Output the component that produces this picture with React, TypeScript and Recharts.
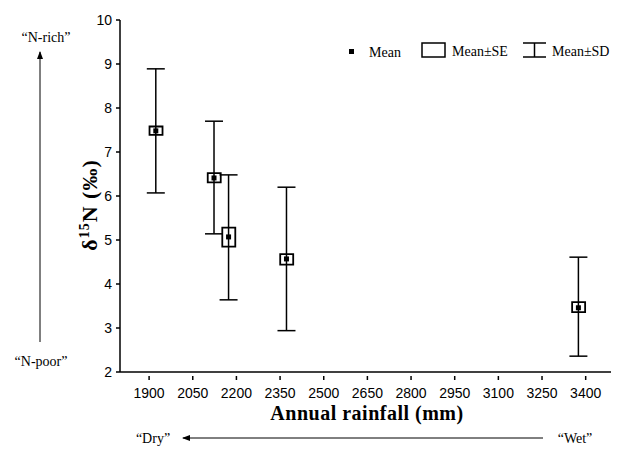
import React from 'react';
import { ComposedChart, Scatter, Bar, XAxis, YAxis, ErrorBar } from 'recharts';

const rainfall = [1923, 2123, 2173, 2372, 3375];
const means = [7.48, 6.41, 5.07, 4.57, 3.46];
const seLow = [7.39, 6.31, 4.85, 4.44, 3.36];
const seHigh = [7.58, 6.52, 5.28, 4.68, 3.59];
const sdLow = [6.07, 5.14, 3.64, 2.94, 2.36];
const sdHigh = [8.89, 7.70, 6.48, 6.20, 4.61];
const xTicks = [1900, 2050, 2200, 2350, 2500, 2650, 2800, 2950, 3100, 3250, 3400];
const yTicks = [2, 3, 4, 5, 6, 7, 8, 9, 10];

const data = rainfall.map((x, i) => ({
  x,
  mean: means[i],
  se: [seLow[i], seHigh[i]],
  sdErr: [means[i] - sdLow[i], sdHigh[i] - means[i]],
}));

const serif = '"Liberation Serif", "Times New Roman", serif';
const sans = '"Liberation Sans", Arial, sans-serif';

const XTick = (props: any) => {
  const { x, y, payload } = props;
  return (
    <g>
      <line x1={x} x2={x} y1={y - 4} y2={y} stroke="#000" strokeWidth={1.5} />
      <text x={x} y={y + 18} textAnchor="middle" fontFamily={sans} fontSize={14} fill="#000">
        {payload.value}
      </text>
    </g>
  );
};

const YTick = (props: any) => {
  const { x, y, payload } = props;
  return (
    <text x={x - 2} y={y + 5} textAnchor="end" fontFamily={sans} fontSize={14} fill="#000">
      {payload.value}
    </text>
  );
};

const MeanShape = (props: any) => {
  const { cx, cy } = props;
  return <rect x={cx - 2.5} y={cy - 2.5} width={5} height={5} fill="#000" />;
};

const NoShape = () => <g />;

export default function App() {
  return (
    <div style={{ position: 'absolute', left: 0, top: 0, width: 618, height: 449, background: '#fff' }}>
      <ComposedChart
        width={618}
        height={449}
        data={data}
        margin={{ top: 20, right: 7, bottom: 47, left: 80 }}
      >
        <XAxis
          type="number"
          dataKey="x"
          domain={[1800, 3487]}
          ticks={xTicks}
          tick={<XTick />}
          tickLine={false}
          axisLine={{ stroke: '#000', strokeWidth: 1.5 }}
          height={30}
          interval={0}
          allowDataOverflow
        />
        <YAxis
          type="number"
          domain={[2, 10]}
          ticks={yTicks}
          tick={<YTick />}
          tickSize={4}
          tickLine={{ stroke: '#000', strokeWidth: 1.5 }}
          axisLine={{ stroke: '#000', strokeWidth: 1.5 }}
          width={40}
          interval={0}
        />
        <Scatter dataKey="mean" shape={<NoShape />} isAnimationActive={false}>
          <ErrorBar dataKey="sdErr" direction="y" width={9} stroke="#000" strokeWidth={1.5} isAnimationActive={false} />
        </Scatter>
        <Bar dataKey="se" barSize={13} fill="#fff" stroke="#000" strokeWidth={1.8} isAnimationActive={false} />
        <Scatter dataKey="mean" shape={<MeanShape />} isAnimationActive={false} />
      </ComposedChart>
      <svg width={618} height={449} style={{ position: 'absolute', left: 0, top: 0, pointerEvents: 'none' }}>
        <defs>
          <marker id="ah" markerWidth="8" markerHeight="8" refX="7" refY="4" orient="auto" markerUnits="userSpaceOnUse">
            <path d="M0,1 L8,4 L0,7 Z" fill="#000" />
          </marker>
        </defs>
        {/* legend */}
        <rect x={349} y={49} width={5} height={5} fill="#000" />
        <text x={369} y={57} fontFamily={serif} fontSize={14} fill="#000">Mean</text>
        <rect x={422} y={43} width={23} height={14} fill="#fff" stroke="#000" strokeWidth={1.5} />
        <text x={452} y={56} fontFamily={serif} fontSize={14} fill="#000">Mean±SE</text>
        <line x1={523} x2={546} y1={43} y2={43} stroke="#000" strokeWidth={1.5} />
        <line x1={534.5} x2={534.5} y1={43} y2={57} stroke="#000" strokeWidth={1.5} />
        <line x1={523} x2={546} y1={57} y2={57} stroke="#000" strokeWidth={1.5} />
        <text x={552} y={56} fontFamily={serif} fontSize={14} fill="#000">Mean±SD</text>
        {/* y label */}
        <text
          transform="translate(97,205) rotate(-90)"
          textAnchor="middle"
          fontFamily={serif}
          fontSize={22}
          fontWeight="bold"
          fill="#000"
          letterSpacing={1}
        >
          δ<tspan dy={-8} fontSize={14}>15</tspan><tspan dy={8}>N (‰)</tspan>
        </text>
        {/* x label */}
        <text x={367} y={420} textAnchor="middle" fontFamily={serif} fontSize={20} fontWeight="bold" fill="#000" letterSpacing={0.5}>
          Annual rainfall (mm)
        </text>
        {/* N-rich / N-poor */}
        <text x={46} y={42} textAnchor="middle" fontFamily={serif} fontSize={14} fill="#000">“N-rich”</text>
        <line x1={40} x2={40} y1={342} y2={52} stroke="#000" strokeWidth={1} markerEnd="url(#ah)" />
        <text x={41} y={366} textAnchor="middle" fontFamily={serif} fontSize={14} fill="#000">“N-poor”</text>
        {/* Dry / Wet */}
        <text x={153} y={443} textAnchor="middle" fontFamily={serif} fontSize={14} fill="#000">“Dry”</text>
        <line x1={543} x2={183} y1={438} y2={438} stroke="#000" strokeWidth={1} markerEnd="url(#ah)" />
        <text x={575} y={443} textAnchor="middle" fontFamily={serif} fontSize={14} fill="#000">“Wet”</text>
      </svg>
    </div>
  );
}
